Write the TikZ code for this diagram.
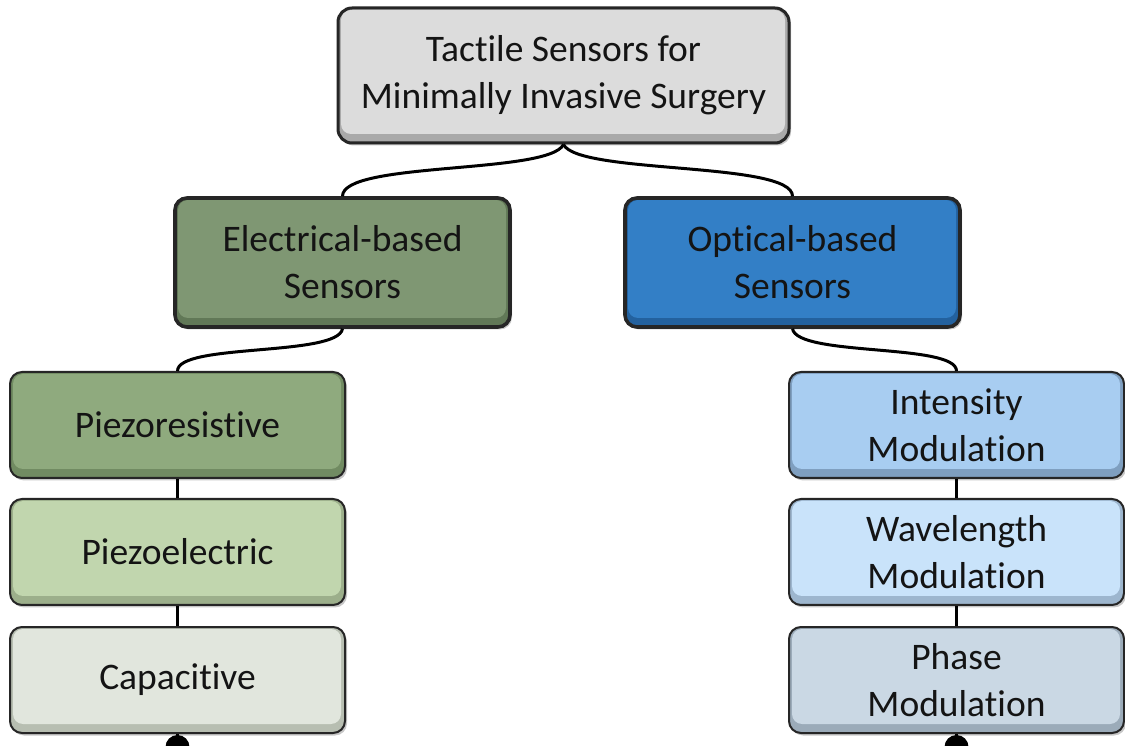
\documentclass[tikz,border=0pt]{standalone}
\usepackage{fontspec}
\setmainfont{Carlito}[Ligatures={NoCommon}]
\usetikzlibrary{calc,shadows}
\definecolor{topF}{HTML}{DCDCDC}\definecolor{topD}{HTML}{A9A9A9}
\definecolor{elecF}{HTML}{7F9773}\definecolor{elecD}{HTML}{617857}
\definecolor{optF}{HTML}{337FC6}\definecolor{optD}{HTML}{23619E}
\definecolor{prF}{HTML}{8FAA7E}\definecolor{prD}{HTML}{718B62}
\definecolor{peF}{HTML}{C1D6AE}\definecolor{peD}{HTML}{9CAF8B}
\definecolor{caF}{HTML}{E1E6DD}\definecolor{caD}{HTML}{B7BEB1}
\definecolor{inF}{HTML}{A8CDF1}\definecolor{inD}{HTML}{7F9FC0}
\definecolor{waF}{HTML}{C9E3FA}\definecolor{waD}{HTML}{9DB6CE}
\definecolor{phF}{HTML}{CAD8E4}\definecolor{phD}{HTML}{9BABB9}
\definecolor{edge}{HTML}{262626}
\tikzset{
  box/.style 2 args={rectangle, rounded corners=12pt, fill=#2, draw=edge,
    line width=2pt, minimum width=335pt, align=center,
    font=\fontsize{37.5}{47}\selectfont, text=black!92,
    drop shadow={shadow xshift=2pt, shadow yshift=-2.5pt, opacity=0.22, fill=black},
    path picture={\fill[#1, rounded corners=10pt]
      ($(path picture bounding box.south west)+(3pt,9pt)$) rectangle
      ($(path picture bounding box.north east)+(-4pt,-2pt)$);}},
  conn/.style={draw=black, line width=3pt},
  enddot/.style={circle, fill=black, inner sep=0pt, minimum size=24pt}
}
\begin{document}
\begin{tikzpicture}[x=1pt,y=1pt]
\useasboundingbox (0,0) rectangle (1125,745);
\clip (0,0) rectangle (1125,745);
\fill[white] (0,0) rectangle (1125,745);
% connectors (drawn first so boxes cover their ends)
\path (563.5,669.5) coordinate (topc);
% nodes
\node[box={topF}{topD}, minimum width=451pt, minimum height=135pt, rounded corners=14pt, line width=3pt] (top) at (563.5,669.5) {Tactile Sensors for\\Minimally Invasive Surgery};
\node[box={elecF}{elecD}, minimum height=129pt, line width=3.6pt] (elec) at (342.5,482.5) {Electrical-based\\Sensors};
\node[box={optF}{optD}, minimum height=129pt, line width=3.6pt] (opt) at (792.5,482.5) {Optical-based\\Sensors};
\node[box={prF}{prD}, minimum height=106pt] (pr) at (177.5,320) {Piezoresistive};
\node[box={peF}{peD}, minimum height=106pt] (pe) at (177.5,193) {Piezoelectric};
\node[box={caF}{caD}, minimum height=106pt] (ca) at (177.5,65) {Capacitive};
\node[box={inF}{inD}, minimum height=106pt] (in) at (956.5,320) {Intensity\\Modulation};
\node[box={waF}{waD}, minimum height=106pt] (wa) at (956.5,193) {Wavelength\\Modulation};
\node[box={phF}{phD}, minimum height=106pt] (ph) at (956.5,65) {Phase\\Modulation};
\node[enddot] (dl) at (177.5,-2) {};
\node[enddot] (dr) at (956.5,-2) {};
\draw[conn] (top.south) .. controls +(-15,-30) and +(0,35) .. (elec.north);
\draw[conn] (top.south) .. controls +(15,-30) and +(0,35) .. (opt.north);
\draw[conn] (elec.south) .. controls +(-5,-28) and +(0,28) .. (pr.north);
\draw[conn] (opt.south) .. controls +(5,-28) and +(0,28) .. (in.north);
\draw[conn] (pr.south) -- (pe.north);
\draw[conn] (pe.south) -- (ca.north);
\draw[conn] (in.south) -- (wa.north);
\draw[conn] (wa.south) -- (ph.north);
\draw[conn] (ca.south) -- (dl.center);
\draw[conn] (ph.south) -- (dr.center);
\end{tikzpicture}
\end{document}
